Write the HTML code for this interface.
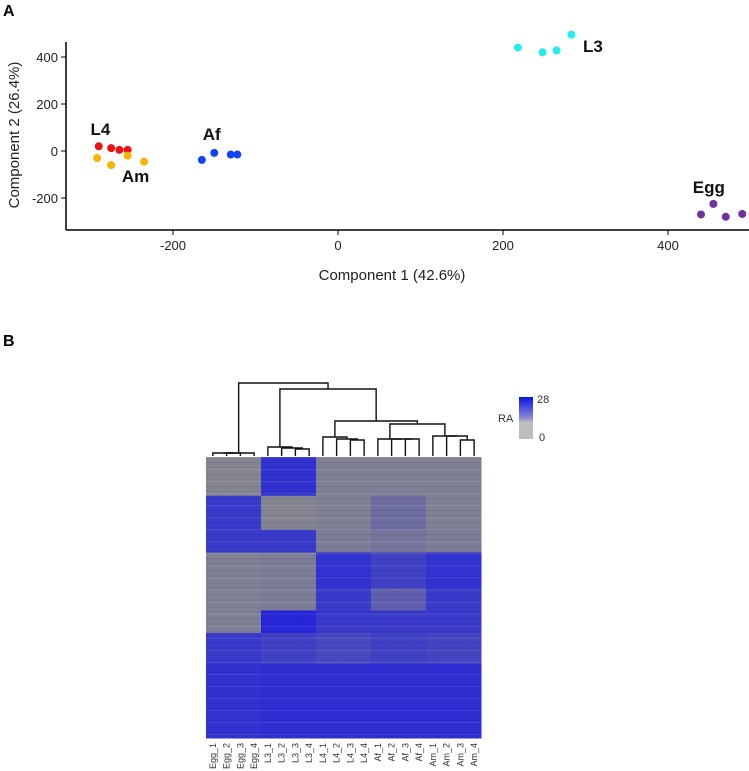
<!DOCTYPE html>
<html><head><meta charset="utf-8">
<style>
html,body{margin:0;padding:0;background:#fff;}
svg{display:block;font-family:"Liberation Sans",Arial,sans-serif;}
</style></head>
<body>
<svg id="fig" width="749" height="771" viewBox="0 0 749 771" xmlns="http://www.w3.org/2000/svg">
<text x="3" y="16" font-size="16" font-weight="bold">A</text>
<text x="3" y="346" font-size="16" font-weight="bold">B</text>
<g id="pca"></g>
<g id="heat"></g>
</svg>
<script>
// ---------- PCA data ----------
const groups = ["L4","Am","Af","L3","Egg"];
const groupColors = ["#ee1111","#f7b500","#1144ee","#22eeee","#7030a0"];
const pc1 = [[-290,-275,-265,-255],[-292,-275,-255,-235],[-165,-150,-130,-122],[218,248,265,283],[440,455,470,490]];
const pc2 = [[20,12,5,5],[-30,-60,-20,-45],[-38,-8,-15,-15],[440,420,428,495],[-270,-225,-280,-268]];
const xTicks = [-200,0,200,400];
const yTicks = [-200,0,200,400];
const labelPos = [[-300,68,"L4"],[-262,-132,"Am"],[-164,47,"Af"],[297,421,"L3"],[430,-179,"Egg"]];

// ---------- Heatmap data ----------
const samples = ["Egg_1","Egg_2","Egg_3","Egg_4","L3_1","L3_2","L3_3","L3_4","L4_1","L4_2","L4_3","L4_4","Af_1","Af_2","Af_3","Af_4","Am_1","Am_2","Am_3","Am_4"];
const blockEdges = [0,0.138,0.259,0.34,0.467,0.546,0.626,0.736,1];
const blockVals = [
  [2,24,3,3,3],
  [22,2,3,8,3],
  [22,22,4,6,4],
  [3,4,24,20,24],
  [3,4,22,12,22],
  [3,27,22,22,22],
  [22,20,18,20,19],
  [24,25,25,25,25]
];

const NS="http://www.w3.org/2000/svg";
function mk(tag,attrs,parent){const e=document.createElementNS(NS,tag);for(const k in attrs)e.setAttribute(k,attrs[k]);parent.appendChild(e);return e;}

// ---- PCA ----
const pca=document.getElementById('pca');
const X0=338, XS=165/200, Y0=151, YS=47/200;
const sx=v=>X0+v*XS, sy=v=>Y0-v*YS;
let ax=mk('line',{x1:66,y1:42,x2:66,y2:230,stroke:'#000','stroke-width':1.5},pca);


ax=mk('line',{x1:66,y1:230,x2:749,y2:230,stroke:'#000','stroke-width':1.5},pca);


xTicks.forEach(t=>{
  mk('line',{x1:sx(t),y1:230,x2:sx(t),y2:235,stroke:'#000'},pca);
  const tx=mk('text',{x:sx(t),y:250,'font-size':13,'text-anchor':'middle',fill:'#222'},pca);tx.textContent=t;
  
  
});
yTicks.forEach(t=>{
  mk('line',{x1:61,y1:sy(t),x2:66,y2:sy(t),stroke:'#000'},pca);
  const tx=mk('text',{x:58,y:sy(t)+5,'font-size':13,'text-anchor':'end',fill:'#222'},pca);tx.textContent=t;
  
  
});
let t1=mk('text',{x:392,y:280,'font-size':15,'text-anchor':'middle',fill:'#222'},pca);t1.textContent="Component 1 (42.6%)";


let t2=mk('text',{x:0,y:0,'font-size':15,'text-anchor':'middle',fill:'#222',transform:'translate(19,135) rotate(-90)'},pca);t2.textContent="Component 2 (26.4%)";


groups.forEach((g,gi)=>{
  pc1[gi].forEach((v,i)=>{
    const c=mk('circle',{cx:sx(v),cy:sy(pc2[gi][i]),r:4,fill:groupColors[gi]},pca);
    
    
  });
});
labelPos.forEach(l=>{
  const tx=mk('text',{x:sx(l[0]),y:sy(l[1]),'font-size':17,'font-weight':'bold',fill:'#111'},pca);tx.textContent=l[2];
  
  
});

// ---- Heatmap ----
const heat=document.getElementById('heat');
const HX=206, HY=457, HW=275, HH=281, CW=HW/samples.length;
function col(v){
  const t=Math.max(0,Math.min(1,v/28));
  const g=[140,140,140], b=[35,35,220];
  const c=g.map((x,i)=>Math.round(x+(b[i]-x)*t));
  return `rgb(${c[0]},${c[1]},${c[2]})`;
}
for(let b=0;b<blockVals.length;b++){
  const y0=HY+blockEdges[b]*HH, y1=HY+blockEdges[b+1]*HH;
  samples.forEach((s,ci)=>{
    const gi=Math.floor(ci/4);
    const r=mk('rect',{x:HX+ci*CW,y:y0,width:CW+0.5,height:y1-y0+0.5,fill:col(blockVals[b][gi])},heat);
    
    
  });
}
for(let k=0;k<70;k++){
  const y=HY+k*HH/70+((k*7)%3);
  const ln=mk('rect',{x:HX,y:y,width:HW,height:1,fill:(k%3===0)?'rgba(255,255,255,0.10)':'rgba(0,0,80,0.08)'},heat);
  
  
}
samples.forEach((s,ci)=>{
  const cx=HX+(ci+0.5)*CW+3;
  const tx=mk('text',{x:0,y:0,'font-size':9,'text-anchor':'end',fill:'#333',transform:`translate(${cx},743) rotate(-90)`},heat);tx.textContent=s;
  
  
});
const merges=[
 [1,2,453],[20,0,453],[21,3,453],
 [6,7,449],[5,23,448],[4,24,447],
 [10,11,440],[9,26,439],[8,27,437],
 [14,15,439],[13,29,439],[12,30,439],
 [18,19,440],[17,32,436],[16,33,436],
 [31,34,424],[28,35,421],[25,36,389],[22,37,383]
];
const nodeX=[],nodeY=[];
samples.forEach((s,i)=>{nodeX[i]=HX+(i+0.5)*CW;nodeY[i]=456;});
const dg=mk('g',{stroke:'#111','stroke-width':1.4,fill:'none'},heat);


merges.forEach((m,i)=>{
  const id=20+i,a=m[0],b=m[1],h=m[2];
  mk('polyline',{points:`${nodeX[a]},${nodeY[a]} ${nodeX[a]},${h} ${nodeX[b]},${h} ${nodeX[b]},${nodeY[b]}`},dg);
  nodeX[id]=(nodeX[a]+nodeX[b])/2;nodeY[id]=h;
});
const defs=mk('defs',{},heat);
const lg=mk('linearGradient',{id:'ck',x1:0,y1:0,x2:0,y2:1},defs);
mk('stop',{offset:'0',  'stop-color':'#0a14e8'},lg);
mk('stop',{offset:'0.5','stop-color':'#8a8ad0'},lg);
mk('stop',{offset:'0.6','stop-color':'#bdbdbd'},lg);
mk('stop',{offset:'1','stop-color':'#bdbdbd'},lg);
const ck=mk('rect',{x:519,y:397,width:14,height:42,fill:'url(#ck)'},heat);


[[537,403,"28"],[539,441,"0"],[498,422,"RA"]].forEach(l=>{
  const tx=mk('text',{x:l[0],y:l[1],'font-size':11,fill:'#333'},heat);tx.textContent=l[2];
  
  
});
</script>
</body></html>
